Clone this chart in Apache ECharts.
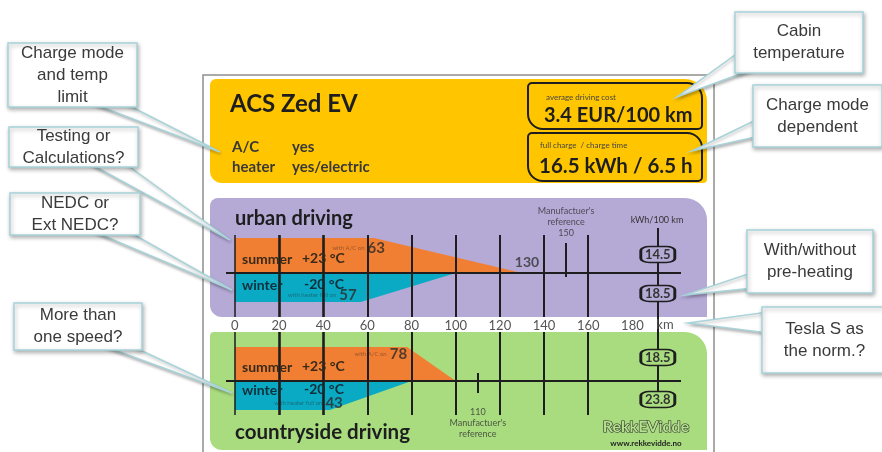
<!DOCTYPE html>
<html><head><meta charset="utf-8">
<script src="https://cdn.jsdelivr.net/npm/echarts@6/dist/echarts.min.js"></script>
<style>html,body{margin:0;padding:0;background:#fff}#c{width:882px;height:452px}</style>
</head><body><div id="c"></div>
<script>
// ---------- data ----------
const carName = 'ACS Zed EV';
const equipmentNames = ['A/C', 'heater'];
const equipmentValues = ['yes', 'yes/electric'];
const costCaption = 'average driving cost';
const costValue = '3.4 EUR/100 km';
const chargeCaption = 'full charge  / charge time';
const chargeValue = '16.5 kWh / 6.5 h';
const sectionNames = ['urban driving', 'countryside driving'];
const summerWithAC = [63, 78];
const summerMax = [130, 100];
const winterWithHeater = [57, 43];
const winterMax = [100, 80];
const manufacturerRef = [150, 110];
const kwhSummer = [14.5, 18.5];
const kwhWinter = [18.5, 23.8];
const tickLabels = [0, 20, 40, 60, 80, 100, 120, 140, 160, 180];
const gridLineValues = [0, 20, 40, 60, 80, 100, 120, 140, 160];
const kwhColumn = 191.5;

// ---------- styles / layout ----------
const C = {
  yellow: '#ffc600', purple: '#b5a9d6', green: '#a9dc7f',
  orange: '#f07f33', teal: '#0aaac4', ink: '#1e1e1e', text: '#2b2b2b',
  callStroke: '#a7d3d9', callText: '#3a3a3a'
};
const F = 'Lato, "Open Sans", sans-serif';
const A = '"Liberation Sans", Arial, sans-serif';
const sec = [
  { top: 235, height: 82, ymin: -44, ymax: 38, sumH: 35, winH: -29, badge: [18.5, -20.5], fill: C.purple,
    refTick: [30, -4] },
  { top: 332, height: 83, ymin: -34, ymax: 49, sumH: 34, winH: -29, badge: [23.5, -18.5], fill: C.green,
    refTick: [8, -12] }
];

const callouts = [
  { lines: ['Charge mode', 'and temp', 'limit'], box: [8, 43, 129, 64], poly: [[83, 100], [118, 100], [220, 152]] },
  { lines: ['Testing or', 'Calculations?'], box: [9, 127, 129, 40], poly: [[83, 160], [120, 160], [230, 240]] },
  { lines: ['NEDC or', 'Ext NEDC?'], box: [10, 193, 130, 42], poly: [[85, 228], [122, 228], [232, 290]] },
  { lines: ['More than', 'one speed?'], box: [14, 303, 128, 47], poly: [[95, 343], [125, 343], [232, 393]] },
  { lines: ['Cabin', 'temperature'], box: [735, 12, 128, 61], poly: [[742, 50], [762, 66], [677, 97]] },
  { lines: ['Charge mode', 'dependent'], box: [753, 85, 129, 62], poly: [[760, 118], [760, 136], [692, 151]] },
  { lines: ['With/without', 'pre-heating'], box: [747, 230, 126, 63], poly: [[754, 272], [754, 288], [685, 295]] },
  { lines: ['Tesla S as', 'the norm.?'], box: [762, 307, 125, 66], poly: [[768, 312], [768, 333], [688, 323]] }
];

const graphics = [];
function txt(x, y, t, font, fill, align, extra) {
  graphics.push(Object.assign({ type: 'text', x: x, y: y, z: 10,
    style: Object.assign({ text: t, font: font, fill: fill || C.text, textAlign: align || 'left', textVerticalAlign: 'middle' }, extra || {}) }));
}
// frame and panels
graphics.push({ type: 'rect', z: 0, shape: { x: 203, y: 75, width: 511, height: 420 }, style: { fill: '#fff', stroke: '#8f8f8f', lineWidth: 1.5 } });
graphics.push({ type: 'rect', z: 1, shape: { x: 210, y: 79, width: 497, height: 104, r: [6, 22, 4, 12] }, style: { fill: C.yellow } });
graphics.push({ type: 'rect', z: 1, shape: { x: 210, y: 198, width: 497, height: 119, r: [8, 22, 0, 12] }, style: { fill: C.purple } });
graphics.push({ type: 'rect', z: 1, shape: { x: 210, y: 332, width: 497, height: 118, r: [4, 22, 0, 12] }, style: { fill: C.green } });
// header
txt(230, 104, carName, 'bold 24px ' + F, C.ink);
equipmentNames.forEach((n, i) => { txt(232, 147 + i * 20, n, 'bold 15px ' + F, '#383838'); txt(292, 147 + i * 20, equipmentValues[i], 'bold 15px ' + F, '#383838'); });
graphics.push({ type: 'rect', z: 5, shape: { x: 528, y: 83, width: 174, height: 46, r: [4, 15, 4, 15] }, style: { fill: 'none', stroke: C.ink, lineWidth: 2 } });
graphics.push({ type: 'rect', z: 5, shape: { x: 528, y: 133, width: 174, height: 48, r: [4, 15, 4, 15] }, style: { fill: 'none', stroke: C.ink, lineWidth: 2 } });
txt(546, 97, costCaption, '8px ' + F, '#444');
txt(544, 116, costValue, 'bold 20px ' + F, C.ink);
txt(540, 145, chargeCaption, '8px ' + F, '#444');
txt(539, 166, chargeValue, 'bold 20.5px ' + F, C.ink);
// sections
txt(235, 219, sectionNames[0], 'bold 20px ' + F, C.ink);
txt(235, 432, sectionNames[1], 'bold 20.5px ' + F, C.ink);
[[259, 285], [367, 390]].forEach(ys => {
  txt(242, ys[0], 'summer', 'bold 14px ' + F, '#3a2a1a');
  txt(302, ys[0] - 1, '+23 °C', 'bold 14px ' + F, '#3a2a1a');
  txt(242, ys[1], 'winter', 'bold 14px ' + F, '#10303a');
  txt(304, ys[1] - 1, '-20 °C', 'bold 14px ' + F, '#10303a');
});
txt(657, 220, 'kWh/100 km', '9px ' + F, '#333', 'center');
txt(665, 325, 'km', '13px ' + F, '#555', 'center');
txt(646, 427, 'RekkEVidde', 'bold 16px ' + F, '#b5e08e', 'center', { stroke: '#2a2a2a', lineWidth: 1.2 });
txt(646, 443, 'www.rekkevidde.no', 'bold 8px ' + F, '#222', 'center');
// callouts
callouts.forEach(c => {
  const b = c.box;
  graphics.push({ type: 'polygon', z: 50, shape: { points: c.poly }, style: { fill: '#fff', stroke: C.callStroke, lineWidth: 1.5, shadowBlur: 3, shadowColor: 'rgba(0,0,0,0.25)', shadowOffsetX: 1, shadowOffsetY: 2 } });
  graphics.push({ type: 'rect', z: 51, shape: { x: b[0], y: b[1], width: b[2], height: b[3] }, style: { fill: '#fff', stroke: C.callStroke, lineWidth: 1.5, shadowBlur: 4, shadowColor: 'rgba(0,0,0,0.3)', shadowOffsetX: 1, shadowOffsetY: 2 } });
  graphics.push({ type: 'text', z: 52, x: b[0] + b[2] / 2, y: b[1] + b[3] / 2,
    style: { text: c.lines.join('\n'), font: '17px ' + A, fill: C.callText, textAlign: 'center', textVerticalAlign: 'middle', lineHeight: 22 } });
});

// ---------- chart ----------
const grids = [], xAxes = [], yAxes = [], series = [];
sec.forEach((s, i) => {
  grids.push({ left: 226, width: 455, top: s.top, height: s.height });
  xAxes.push({ type: 'value', gridIndex: i, min: -4, max: 202, splitLine: { show: false }, axisLine: { show: false }, axisTick: { show: false },
    axisLabel: i === 0 ? { show: true, customValues: tickLabels, margin: 2, fontSize: 13, color: '#555', fontFamily: F } : { show: false } });
  yAxes.push({ type: 'value', gridIndex: i, min: s.ymin, max: s.ymax, show: false });
  series.push({ type: 'line', xAxisIndex: i, yAxisIndex: i, z: 2, silent: true, symbol: 'none', lineStyle: { width: 0 },
    areaStyle: { color: C.orange, opacity: 1 }, data: [[0, s.sumH], [summerWithAC[i], s.sumH], [summerMax[i], 0]] });
  series.push({ type: 'line', xAxisIndex: i, yAxisIndex: i, z: 2, silent: true, symbol: 'none', lineStyle: { width: 0 },
    areaStyle: { color: C.teal, opacity: 1 }, data: [[0, s.winH], [winterWithHeater[i], s.winH], [winterMax[i], 0]] });
  series.push({ type: 'line', xAxisIndex: i, yAxisIndex: i, z: 3, silent: true, symbol: 'none', lineStyle: { width: 0 }, data: [[0, 0]],
    markLine: { silent: true, symbol: 'none', label: { show: false }, lineStyle: { color: C.ink, width: 2, type: 'solid' },
      data: gridLineValues.map(v => ({ xAxis: v, lineStyle: { width: v === 0 ? 1.5 : (v === 20 || v === 40 ? 2.6 : 2) } }))
        .concat([{ yAxis: 0 }, [{ coord: [manufacturerRef[i], s.refTick[0]] }, { coord: [manufacturerRef[i], s.refTick[1]] }]]) } });
  // value labels
  const small = { fontSize: 6, color: 'rgba(40,30,30,0.55)', fontFamily: F, padding: [0, 3, 0, 0] };
  const big = { fontSize: 15, fontWeight: 'bold', color: '#2a2a2a', fontFamily: F };
  const sOff = i === 0 ? [11, 0] : [0, 0];
  const wOff = i === 0 ? [-4, 0] : [13, 0];
  const labelData = [
    { value: [summerWithAC[i], i === 0 ? 25 : 27], label: { show: true, position: sOff, align: 'right', verticalAlign: 'middle',
      formatter: '{s|with A/C on}{v|' + summerWithAC[i] + '}', rich: { s: small, v: big } } },
    { value: [winterWithHeater[i], -22], label: { show: true, position: wOff, align: 'right', verticalAlign: 'middle',
      formatter: '{s|with heater full on}{v|' + winterWithHeater[i] + '}', rich: { s: small, v: big } } },
    { value: [manufacturerRef[i], i === 0 ? s.refTick[0] : s.refTick[1]], label: { show: true,
      position: i === 0 ? [0, -4] : [0, 14], align: 'center', verticalAlign: i === 0 ? 'bottom' : 'top',
      fontSize: 9, lineHeight: 11, color: '#333', fontFamily: F,
      formatter: i === 0 ? "Manufactuer's\nreference\n" + manufacturerRef[i] : manufacturerRef[i] + "\nManufactuer's\nreference" } }
  ];
  if (i === 0) labelData.push({ value: [summerMax[i], 0], label: { show: true, position: [5, -11], align: 'center', verticalAlign: 'middle',
    fontSize: 14, fontWeight: 'bold', color: '#333', fontFamily: F, formatter: String(summerMax[i]) } });
  series.push({ type: 'scatter', xAxisIndex: i, yAxisIndex: i, z: 4, silent: true, symbolSize: 0, data: labelData });
  // kWh badges
  series.push({ type: 'scatter', xAxisIndex: i, yAxisIndex: i, z: 6, silent: true, symbol: 'roundRect', symbolSize: [34, 16],
    itemStyle: { color: s.fill, borderColor: C.ink, borderWidth: 2, opacity: 1 },
    label: { show: true, position: 'inside', fontSize: 13, fontWeight: 'bold', color: '#333', fontFamily: F,
      formatter: p => (p.dataIndex === 0 ? kwhSummer[i] : kwhWinter[i]).toFixed(1) },
    data: [[kwhColumn, s.badge[0]], [kwhColumn, s.badge[1]]] });
});
// overlay grid for the kWh column line
grids.push({ left: 226, width: 455, top: 228, height: 164 });
xAxes.push({ type: 'value', gridIndex: 2, min: -4, max: 202, show: false });
yAxes.push({ type: 'value', gridIndex: 2, min: 0, max: 1, show: false });
series.push({ type: 'line', xAxisIndex: 2, yAxisIndex: 2, z: 5, silent: true, symbol: 'none', lineStyle: { width: 0 }, data: [[0, 0]],
  markLine: { silent: true, symbol: 'none', label: { show: false }, lineStyle: { color: C.ink, width: 2, type: 'solid' }, data: [{ xAxis: kwhColumn }] } });

const chart = echarts.init(document.getElementById('c'), null, { renderer: 'canvas' });
chart.setOption({
  animation: false,
  backgroundColor: '#fff',
  grid: grids, xAxis: xAxes, yAxis: yAxes, series: series,
  graphic: { elements: graphics }
});
</script></body></html>
